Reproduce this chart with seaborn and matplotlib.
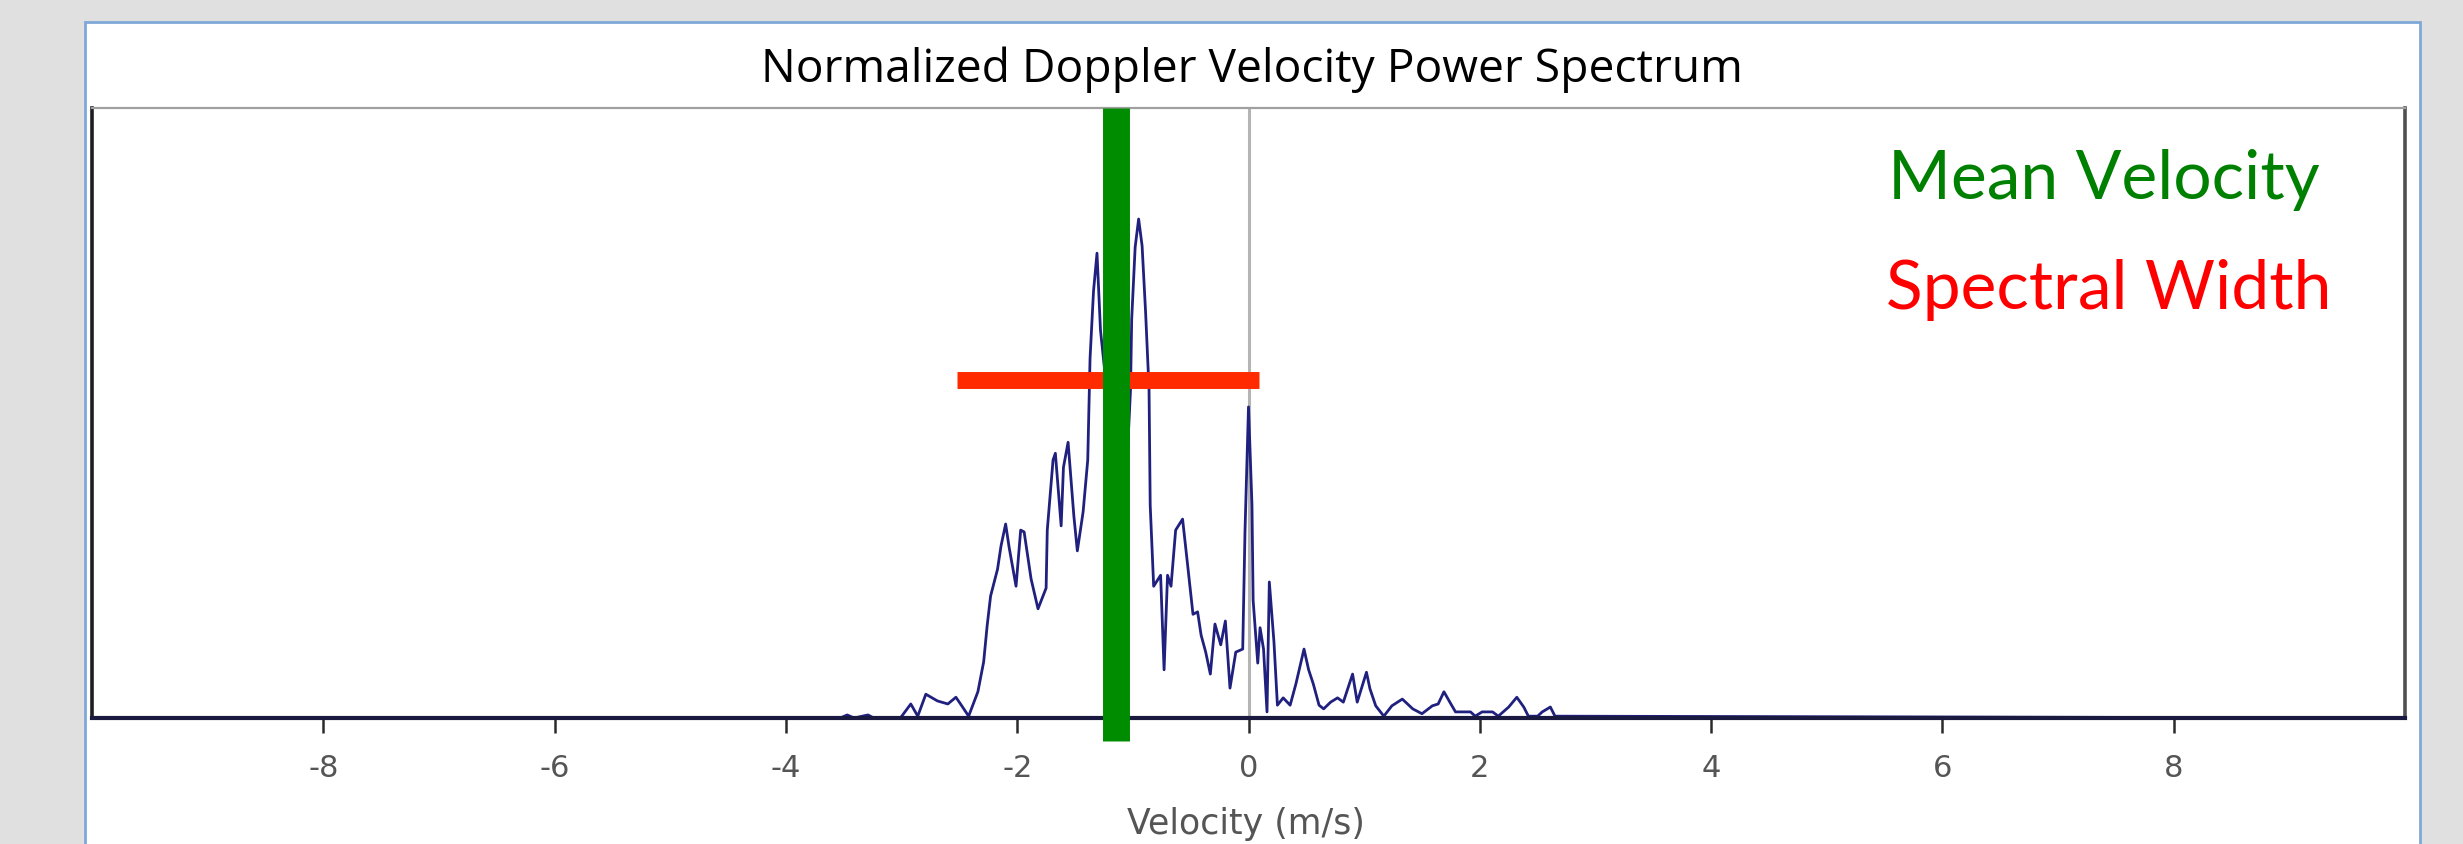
import matplotlib
matplotlib.use("Agg")
import matplotlib.pyplot as plt
import seaborn as sns
import pandas as pd
from matplotlib.patches import Rectangle

# ---------------- data ----------------
velocity = [-10.0, -3.53, -3.47, -3.41, -3.29, -3.24, -3.01, -2.92, -2.86, -2.79, -2.69,
            -2.60, -2.53, -2.49, -2.42, -2.34, -2.29, -2.26, -2.23, -2.17, -2.14,
            -2.10, -2.07, -2.01, -1.97, -1.94, -1.88, -1.82, -1.75, -1.74, -1.69,
            -1.67, -1.62, -1.60, -1.56, -1.51, -1.48, -1.43, -1.39, -1.37, -1.34,
            -1.31, -1.28, -1.20, -1.08, -1.02, -1.01, -0.98, -0.95, -0.92, -0.89,
            -0.86, -0.85, -0.82, -0.76, -0.73, -0.70, -0.67, -0.63, -0.57, -0.53,
            -0.48, -0.44, -0.41, -0.37, -0.33, -0.29, -0.24, -0.20, -0.16, -0.11,
            -0.05, -0.03, 0.00, 0.03, 0.04, 0.08, 0.10, 0.13, 0.16, 0.18,
            0.22, 0.25, 0.30, 0.36, 0.41, 0.48, 0.52, 0.56, 0.61, 0.65,
            0.71, 0.77, 0.82, 0.90, 0.94, 1.02, 1.05, 1.10, 1.17, 1.24,
            1.33, 1.42, 1.50, 1.59, 1.64, 1.69, 1.75, 1.79, 1.92, 1.96,
            2.02, 2.11, 2.16, 2.25, 2.32, 2.38, 2.42, 2.50, 2.54, 2.61,
            2.65, 10.0]
power = [0.0, 0.0, 0.005, 0.0, 0.005, 0.0, 0.0, 0.023, 0.003, 0.039, 0.028,
         0.023, 0.034, 0.023, 0.003, 0.043, 0.092, 0.151, 0.200, 0.244, 0.282,
         0.318, 0.280, 0.216, 0.308, 0.305, 0.228, 0.179, 0.213, 0.308, 0.423,
         0.434, 0.315, 0.411, 0.452, 0.331, 0.274, 0.338, 0.423, 0.590, 0.700,
         0.762, 0.636, 0.490, 0.300, 0.539, 0.654, 0.772, 0.818, 0.774, 0.666,
         0.539, 0.349, 0.216, 0.234, 0.079, 0.234, 0.216, 0.308, 0.326, 0.257,
         0.170, 0.174, 0.136, 0.108, 0.072, 0.154, 0.120, 0.159, 0.049, 0.108,
         0.113, 0.308, 0.510, 0.349, 0.193, 0.090, 0.148, 0.113, 0.010, 0.223,
         0.125, 0.021, 0.033, 0.021, 0.056, 0.113, 0.079, 0.056, 0.021, 0.015,
         0.026, 0.033, 0.026, 0.072, 0.026, 0.075, 0.048, 0.020, 0.003, 0.020,
         0.031, 0.015, 0.007, 0.020, 0.023, 0.043, 0.023, 0.010, 0.010, 0.003,
         0.010, 0.010, 0.003, 0.018, 0.034, 0.018, 0.003, 0.003, 0.010, 0.018,
         0.003, 0.0]

mean_velocity = -1.15
width_left = -2.52
width_right = 0.09
width_level = 0.554

x_ticks = [-8, -6, -4, -2, 0, 2, 4, 6, 8]
x_tick_labels = ["-8", "-6", "-4", "-2", "0", "2", "4", "6", "8"]

title_text = "Normalized Doppler Velocity Power Spectrum"
x_label_text = "Velocity (m/s)"
legend_labels = ["Mean Velocity", "Spectral Width"]

# ---------------- figure ----------------
sns.set_theme(style="white")
plt.rcParams["font.family"] = ["DejaVu Sans"]

W, H = 2463, 845
fig = plt.figure(figsize=(W / 100, H / 100), dpi=100)
fig.patch.set_facecolor("#e0e0e0")

# white panel with blue border
panel = Rectangle((85 / W, -0.01), (2420 - 85) / W, (H - 23) / H + 0.01,
                  transform=fig.transFigure, facecolor="white",
                  edgecolor="#7fa8d8", linewidth=2, zorder=-5)
fig.patches.append(panel)

ax_left, ax_right, ax_top, ax_bottom = 92, 2405, 109, 719
ax = fig.add_axes([ax_left / W, 1 - ax_bottom / H,
                   (ax_right - ax_left) / W, (ax_bottom - ax_top) / H])
ax.set_zorder(2)
ax.set_facecolor("white")

df = pd.DataFrame({"velocity": velocity, "power": power})

ax.axvline(0, color="#b4b4b4", lw=2.2, zorder=1)
sns.lineplot(data=df, x="velocity", y="power", ax=ax, color="#20207f",
             lw=2.0, estimator=None, sort=False, zorder=2)

ax.plot([width_left, width_right], [width_level, width_level],
        color="#ff2a00", lw=12.2, solid_capstyle="butt", zorder=3)
ax.axvline(mean_velocity, ymin=-0.038, ymax=1, color="#008c00", lw=19.4,
           solid_capstyle="butt", clip_on=False, zorder=4)

ax.set_xlim(-10, 10)
ax.set_ylim(0, 1)
ax.set_xticks(x_ticks)
ax.set_xticklabels(x_tick_labels)
ax.set_yticks([])
ax.set_xlabel("")
ax.set_ylabel("")
ax.tick_params(axis="x", direction="out", length=11, width=1.8, color="#2a2a2a",
               pad=14, labelsize=22, labelcolor="#555555", bottom=True)

for side, col, lw in [("left", "#1e1e1e", 2.6), ("bottom", "#1a1a40", 3.0),
                      ("top", "#a0a0a0", 1.6), ("right", "#505050", 2.6)]:
    ax.spines[side].set_visible(True)
    ax.spines[side].set_color(col)
    ax.spines[side].set_linewidth(lw)

fig.text(1252 / W, 1 - 70 / H, title_text, ha="center", va="center",
         fontsize=33.2, color="black", family=["Open Sans", "DejaVu Sans"])
fig.text(1246 / W, 1 - 824 / H, x_label_text, ha="center", va="center",
         fontsize=25, color="#555555")

fig.text(1888 / W, 1 - 199 / H, legend_labels[0], ha="left", va="baseline",
         fontsize=48.8, color="#008000", family=["Lato", "DejaVu Sans"])
fig.text(1886 / W, 1 - 309 / H, legend_labels[1], ha="left", va="baseline",
         fontsize=48.8, color="#ff0000", family=["Lato", "DejaVu Sans"])

fig.savefig("out.png", dpi=100, facecolor=fig.get_facecolor())
